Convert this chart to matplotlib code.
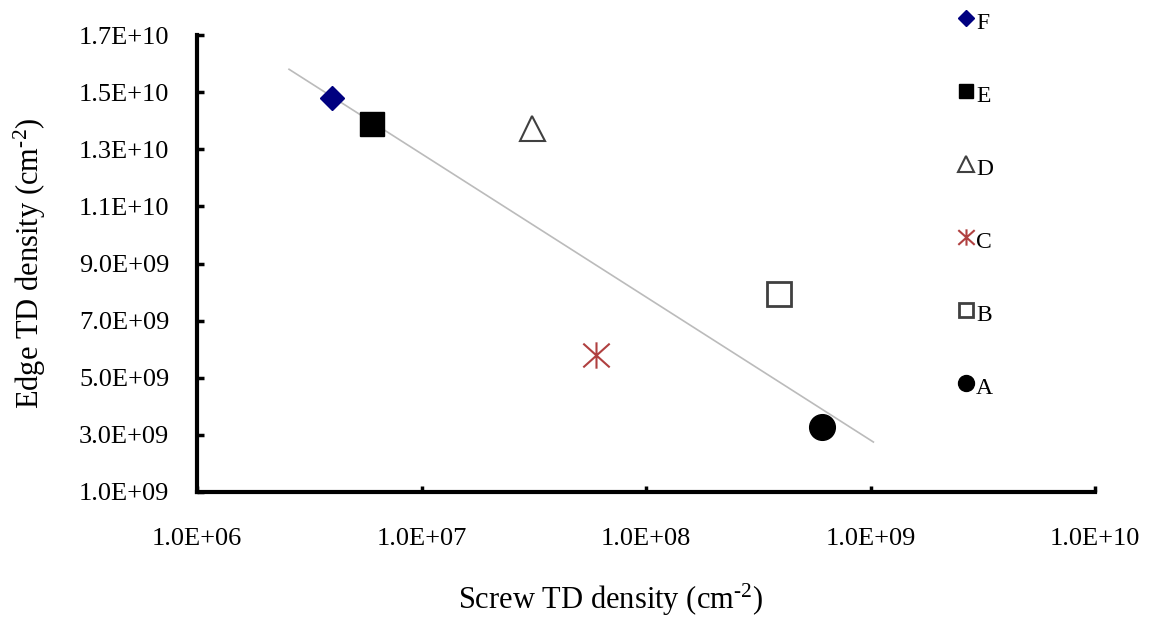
import numpy as np
import matplotlib
matplotlib.use("Agg")
import matplotlib.pyplot as plt
from matplotlib.path import Path
from matplotlib.ticker import FixedLocator, FuncFormatter, NullLocator

plt.rcParams["font.family"] = ["Liberation Serif", "DejaVu Serif"]
plt.rcParams["mathtext.fontset"] = "custom"
plt.rcParams["mathtext.rm"] = "Liberation Serif"
plt.rcParams["mathtext.it"] = "Liberation Serif:italic"

# Sample data: screw vs edge threading-dislocation densities
samples = ["A", "B", "C", "D", "E", "F"]
screw_td = [6.1e8, 3.9e8, 6.0e7, 3.1e7, 6.0e6, 4.0e6]
edge_td = [3.27e9, 7.92e9, 5.78e9, 1.376e10, 1.39e10, 1.478e10]

# Trend line end points
trend_x = [2.57e6, 1.03e9]
trend_y = [1.58e10, 2.75e9]

x_ticks = [1e6, 1e7, 1e8, 1e9, 1e10]
y_ticks = [1e9, 3e9, 5e9, 7e9, 9e9, 1.1e10, 1.3e10, 1.5e10, 1.7e10]

# asterisk: an "x" with a vertical stroke
star_path = Path(
    [(-1, -0.9), (1, 0.9), (-1, 0.9), (1, -0.9), (0, -1), (0, 1)],
    [Path.MOVETO, Path.LINETO, Path.MOVETO, Path.LINETO, Path.MOVETO, Path.LINETO],
)

styles = {
    "A": dict(marker="o", ms=18.5, mfc="black", mec="black", mew=1),
    "B": dict(marker="s", ms=17, mfc="white", mec="#404040", mew=2),
    "C": dict(marker=star_path, ms=19, mfc="none", mec="#B04040", mew=1.5),
    "D": dict(marker="^", ms=18, mfc="white", mec="#404040", mew=1.5),
    "E": dict(marker="s", ms=17, mfc="black", mec="black", mew=1),
    "F": dict(marker="D", ms=12.5, mfc="#000080", mec="#000080", mew=1),
}

fig = plt.figure(figsize=(11.49, 6.19), dpi=100)
ax = fig.add_axes([197 / 1149, 1 - 492 / 619, (1095 - 197) / 1149, (492 - 35) / 619])

ax.plot(trend_x, trend_y, color="#BBBBBB", lw=1.2, zorder=1)

handles = {}
for name, sx, ey in zip(samples, screw_td, edge_td):
    (h,) = ax.plot([sx], [ey], ls="none", label=name, zorder=3, **styles[name])
    handles[name] = h

ax.set_xscale("log")
ax.set_xlim(1e6, 1e10)
ax.set_ylim(1e9, 1.7e10)
ax.xaxis.set_major_locator(FixedLocator(x_ticks))
ax.xaxis.set_minor_locator(NullLocator())
ax.yaxis.set_major_locator(FixedLocator(y_ticks))
fmt = FuncFormatter(lambda v, p: f"{v:.1E}")
ax.xaxis.set_major_formatter(fmt)
ax.yaxis.set_major_formatter(fmt)

for s in ("top", "right"):
    ax.spines[s].set_visible(False)
for s in ("left", "bottom"):
    ax.spines[s].set_linewidth(3)
    ax.spines[s].set_color("black")

ax.tick_params(axis="y", direction="in", length=5, width=2.5, pad=20, labelsize=19)
ax.tick_params(axis="x", direction="in", length=4, width=2.5, pad=26, labelsize=19)

ax.set_xlabel(r"Screw TD density (cm$^{\text{-}2}$)", fontsize=22)
ax.set_ylabel(r"Edge TD density (cm$^{\text{-}2}$)", fontsize=22)
ax.xaxis.set_label_coords((610 - 197) / 898, -(600 - 492) / 457)
ax.xaxis.label.set_va("center")
ax.yaxis.set_label_coords(-(197 - 30) / 898, 0.5)
ax.yaxis.label.set_va("center")

order = ["F", "E", "D", "C", "B", "A"]
leg = ax.legend(
    [handles[k] for k in order], order,
    loc="upper left", bbox_to_anchor=(957 / 1149, 1 - 10 / 619),
    bbox_transform=fig.transFigure, frameon=False,
    fontsize=17, markerscale=0.62, handlelength=0.75, handletextpad=0.05,
    labelspacing=2.18, borderpad=0, borderaxespad=0,
)
# legend labels sit slightly below their markers
for t in leg.get_texts():
    t.set_y(-2.5)

fig.savefig("out.png", dpi=100)
